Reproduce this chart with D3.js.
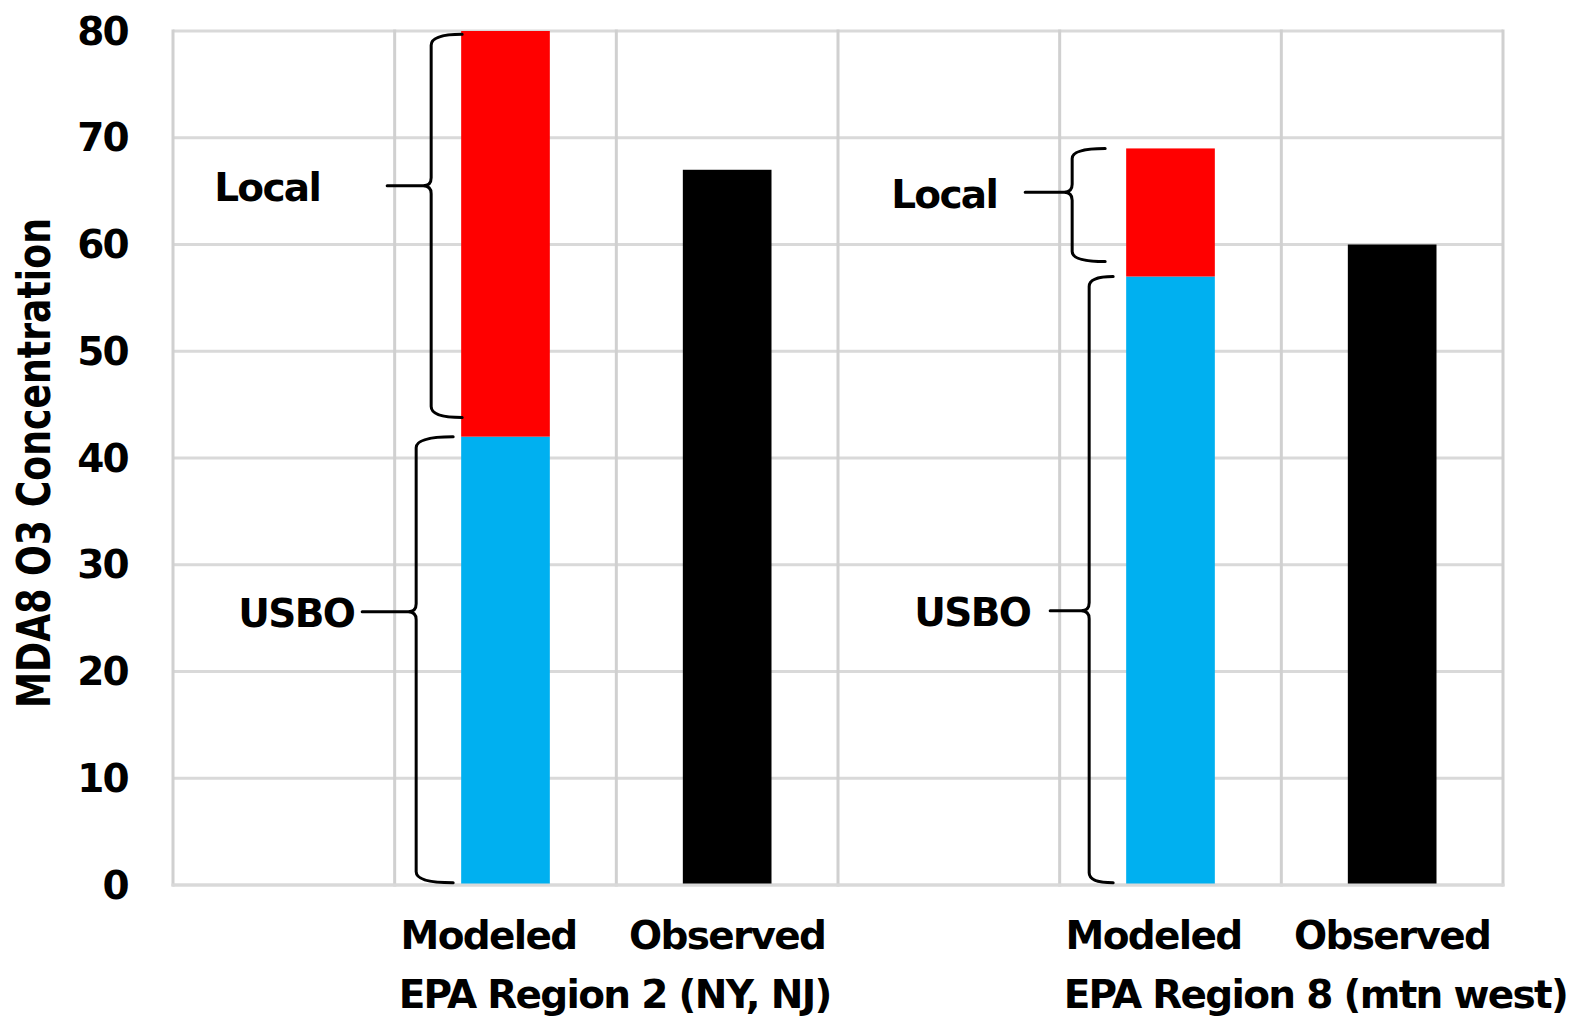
<!DOCTYPE html>
<html>
<head>
<meta charset="utf-8">
<script src="https://cdn.jsdelivr.net/npm/d3@7"></script>
<style>
  html, body { margin: 0; padding: 0; background: #fff; }
  svg { display: block; }
  text { font-family: "DejaVu Sans", Verdana, sans-serif; font-weight: bold; fill: #000; }
  .lbl { font-size: 39px; letter-spacing: -1.7px; }
</style>
</head>
<body>
<svg id="chart" width="1573" height="1018"></svg>
<script>
// Category slots along the x axis (blank slots separate the two regions)
const categories = ["gap2", "mod2", "obs2", "gap8", "mod8", "obs8"];
const categoryLabels = ["", "Modeled", "Observed", "", "Modeled", "Observed"];
const regionLabels = ["EPA Region 2 (NY, NJ)", "EPA Region 8 (mtn west)"];
const regionFirstBar = ["mod2", "mod8"];

// Stacked modeled bars: US background ozone + local contribution (ppb)
const modeledCats = ["mod2", "mod8"];
const usboValues = [42, 57];
const localValues = [38, 12];

// Observed bars (ppb)
const observedCats = ["obs2", "obs8"];
const observedValues = [67, 60];

const yTicks = [0, 10, 20, 30, 40, 50, 60, 70, 80];
const yTitle = "MDA8 O3 Concentration";

// Brace annotations: value spans and label per brace
const braceCats = ["mod2", "mod2", "mod8", "mod8"];
const braceLabels = ["Local", "USBO", "Local", "USBO"];
const braceTop = [79.7, 42, 69, 57];
const braceBottom = [43.8, 0.2, 58.4, 0.2];
const braceTip = [65.5, 25.6, 64.9, 25.7];

// ---- layout ----
const svg = d3.select("#chart");
const plot = { left: 173, right: 1503, top: 31, bottom: 885 };
const gridColor = "#d9d9d9";

const x = d3.scaleBand().domain(categories).range([plot.left, plot.right]).padding(0);
const barW = x.bandwidth() * 0.4;
const barX = c => x(c) + (x.bandwidth() - barW) / 2;
const y = d3.scaleLinear().domain([0, 80]).range([plot.bottom, plot.top]);

// horizontal gridlines
svg.append("g").selectAll("line").data(yTicks).join("line")
  .attr("x1", plot.left).attr("x2", plot.right)
  .attr("y1", d => y(d)).attr("y2", d => y(d))
  .attr("stroke", gridColor).attr("stroke-width", 3);

// vertical category separators
const edges = categories.map(c => x(c)).concat([plot.right]);
svg.append("g").selectAll("line").data(edges).join("line")
  .attr("x1", d => d).attr("x2", d => d)
  .attr("y1", plot.top - 1.5).attr("y2", plot.bottom + 1.5)
  .attr("stroke", "#d0d0d0").attr("stroke-width", 3);

// y tick labels
svg.append("g").selectAll("text").data(yTicks).join("text")
  .attr("class", "lbl")
  .attr("x", plot.left - 45).attr("y", d => y(d))
  .attr("text-anchor", "end").attr("dominant-baseline", "central")
  .text(d => d);

// y axis title, condensed to fit along the axis
const title = svg.append("text")
  .attr("font-size", 46)
  .attr("font-weight", "bold")
  .attr("text-anchor", "middle").attr("dominant-baseline", "central")
  .text(yTitle);
const tLen = title.node().getComputedTextLength();
const sx = 490 / tLen;
title.attr("transform", `translate(34,463) rotate(-90) scale(${sx},1)`);

// stacked modeled bars
const bars = svg.append("g");
bars.selectAll("rect.usbo").data(modeledCats).join("rect")
  .attr("class", "usbo")
  .attr("x", d => barX(d)).attr("width", barW)
  .attr("y", (d, i) => y(usboValues[i]))
  .attr("height", (d, i) => y(0) - y(usboValues[i]))
  .attr("fill", "#00b0f0");
bars.selectAll("rect.local").data(modeledCats).join("rect")
  .attr("class", "local")
  .attr("x", d => barX(d)).attr("width", barW)
  .attr("y", (d, i) => y(usboValues[i] + localValues[i]))
  .attr("height", (d, i) => y(usboValues[i]) - y(usboValues[i] + localValues[i]))
  .attr("fill", "#ff0000");
bars.selectAll("rect.obs").data(observedCats).join("rect")
  .attr("class", "obs")
  .attr("x", d => barX(d)).attr("width", barW)
  .attr("y", (d, i) => y(observedValues[i]))
  .attr("height", (d, i) => y(0) - y(observedValues[i]))
  .attr("fill", "#000");

// bottom axis line drawn over bars
svg.append("line")
  .attr("x1", plot.left - 1.5).attr("x2", plot.right + 1.5)
  .attr("y1", plot.bottom).attr("y2", plot.bottom)
  .attr("stroke", gridColor).attr("stroke-width", 3);

// category labels
svg.append("g").selectAll("text").data(categories).join("text")
  .attr("class", "lbl")
  .attr("x", (d, i) => x(d) + x.bandwidth() / 2 + (categoryLabels[i] === "Modeled" ? -17 : 0))
  .attr("y", 949)
  .attr("text-anchor", "middle")
  .text((d, i) => categoryLabels[i]);

// region labels, aligned with the first label of each region
svg.append("g").selectAll("text").data(regionLabels).join("text")
  .attr("class", "lbl")
  .attr("x", (d, i) => x(regionFirstBar[i]) + 4)
  .attr("y", 1008)
  .text(d => d);

// brace geometry, in pixels relative to the bar's left edge
const braceGeom = [
  { spine: -30, end: 1, tip: -74, label: -67, r: 11 },
  { spine: -45, end: -8, tip: -99, label: -8, r: 11 },
  { spine: -54, end: -21, tip: -101, label: -28, r: 10 },
  { spine: -37, end: -13, tip: -76, label: -20, r: 10 }
];

function bracePath(xs, xe, xt, yT, yB, yM, r) {
  const c = 8;
  return `M${xe},${yT} Q${xs},${yT} ${xs},${yT + r}` +
    ` L${xs},${yM - c} Q${xs},${yM} ${xs - c},${yM} L${xt},${yM}` +
    ` M${xs - c},${yM} Q${xs},${yM} ${xs},${yM + c}` +
    ` L${xs},${yB - r} Q${xs},${yB} ${xe},${yB}`;
}

const braces = svg.append("g");
braceCats.forEach((c, i) => {
  const g = braceGeom[i];
  const bx = barX(c);
  braces.append("path")
    .attr("d", bracePath(bx + g.spine, bx + g.end, bx + g.tip,
      y(braceTop[i]), y(braceBottom[i]), y(braceTip[i]), g.r))
    .attr("fill", "none").attr("stroke", "#000")
    .attr("stroke-width", 3).attr("stroke-linecap", "round")
    .attr("stroke-linejoin", "round");
  braces.append("text")
    .attr("class", "lbl")
    .attr("x", bx + g.tip + g.label)
    .attr("y", y(braceTip[i]) + 2)
    .attr("text-anchor", "end").attr("dominant-baseline", "central")
    .text(braceLabels[i]);
});
</script>
</body>
</html>
